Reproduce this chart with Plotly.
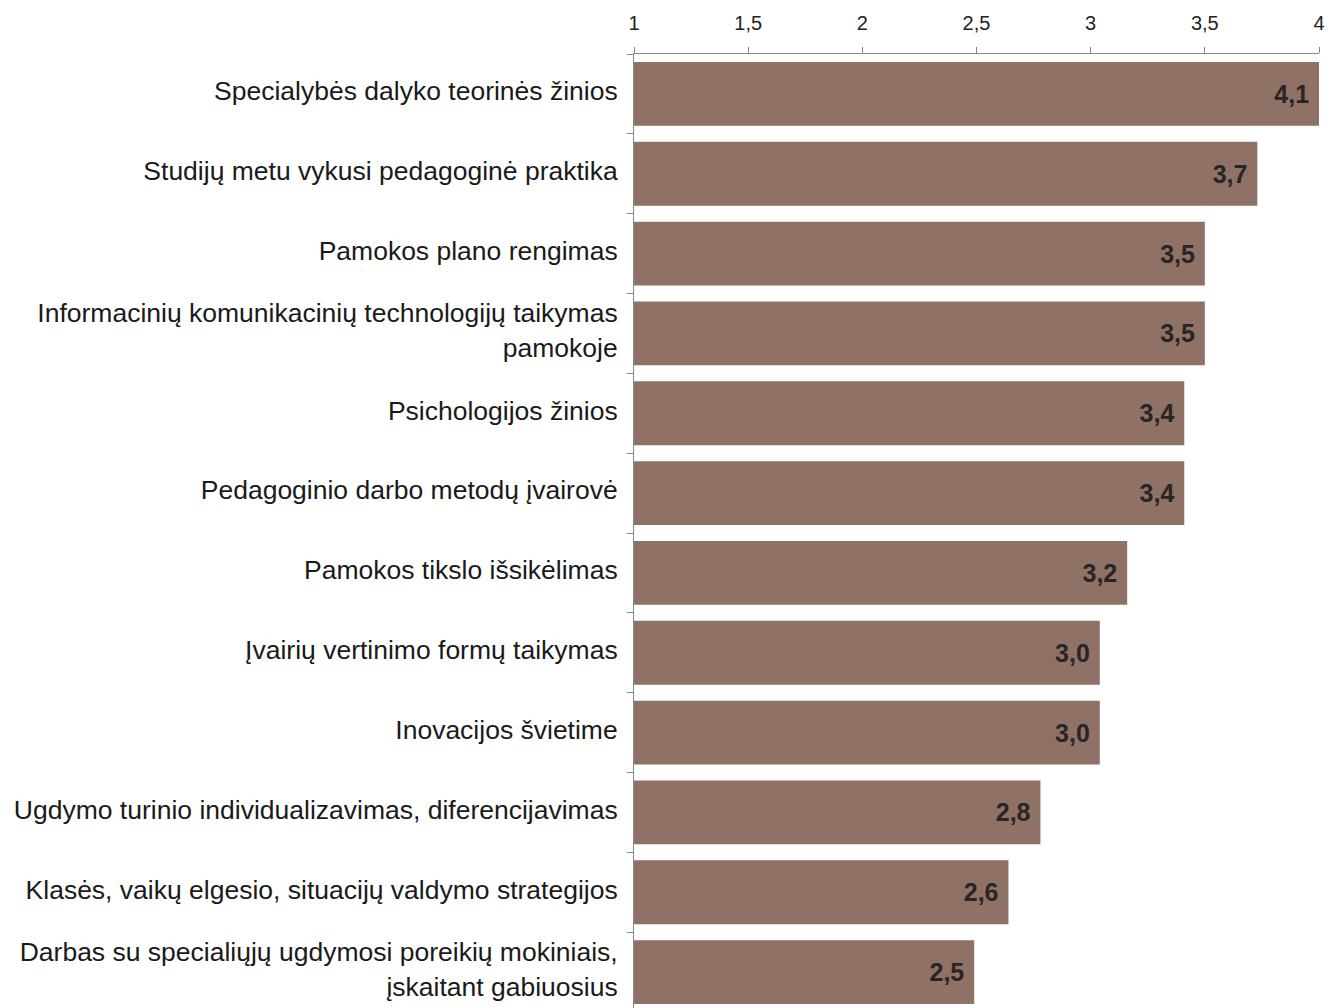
import plotly.graph_objects as go

categories = [
    "Specialybės dalyko teorinės žinios",
    "Studijų metu vykusi pedagoginė praktika",
    "Pamokos plano rengimas",
    "Informacinių komunikacinių technologijų taikymas<br>pamokoje",
    "Psichologijos žinios",
    "Pedagoginio darbo metodų įvairovė",
    "Pamokos tikslo išsikėlimas",
    "Įvairių vertinimo formų taikymas",
    "Inovacijos švietime",
    "Ugdymo turinio individualizavimas, diferencijavimas",
    "Klasės, vaikų elgesio, situacijų valdymo strategijos",
    "Darbas su specialiųjų ugdymosi poreikių mokiniais,<br>įskaitant gabiuosius",
]
values = [4.07, 3.73, 3.50, 3.50, 3.41, 3.41, 3.16, 3.04, 3.04, 2.78, 2.64, 2.49]
tick_vals = [1, 1.5, 2, 2.5, 3, 3.5, 4]
tick_text = ["1", "1,5", "2", "2,5", "3", "3,5", "4"]
value_labels = ["4,1", "3,7", "3,5", "3,5", "3,4", "3,4", "3,2", "3,0", "3,0", "2,8", "2,6", "2,5"]

x_min, x_max = tick_vals[0], tick_vals[-1]
# bars that exceed the axis maximum are drawn cut at the axis end, as in the original
plotted = [min(v, x_max) for v in values]

fig = go.Figure(go.Bar(
    x=plotted, y=categories, orientation="h",
    marker=dict(color="#8F7166", line=dict(width=0)),
    text=value_labels, texttemplate="%{text}\u00a0",
    textposition="inside", insidetextanchor="end",
    textfont=dict(family="Liberation Sans, Arial, sans-serif", size=25, color="#262626", weight="bold"),
    customdata=values,
    hovertemplate="%{y}: %{customdata}<extra></extra>",
))

fig.update_layout(
    width=1340, height=1008,
    margin=dict(l=626, r=29, t=44, b=4),
    paper_bgcolor="white", plot_bgcolor="white",
    bargap=0.2, showlegend=False,
)
fig.update_xaxes(
    range=[x_min, x_max], side="top", tickvals=tick_vals, ticktext=tick_text,
    showgrid=False, zeroline=False, showline=True, linecolor="#888888", linewidth=1,
    ticks="outside", ticklen=6, tickcolor="#888888", ticklabelstandoff=9,
    tickfont=dict(family="Liberation Sans Narrow, Arial Narrow, sans-serif", size=20, color="#222222"),
)
fig.update_yaxes(
    autorange="reversed", showgrid=False, zeroline=False, showline=True,
    linecolor="#888888", linewidth=1, ticks="outside", ticklen=6, tickcolor="#888888",
    tickson="boundaries", ticklabelstandoff=10, ticklabelshift=3,
    tickfont=dict(family="Liberation Sans, Arial, sans-serif", size=26.5, color="#1a1a1a"),
)

fig.write_html("out.html")
